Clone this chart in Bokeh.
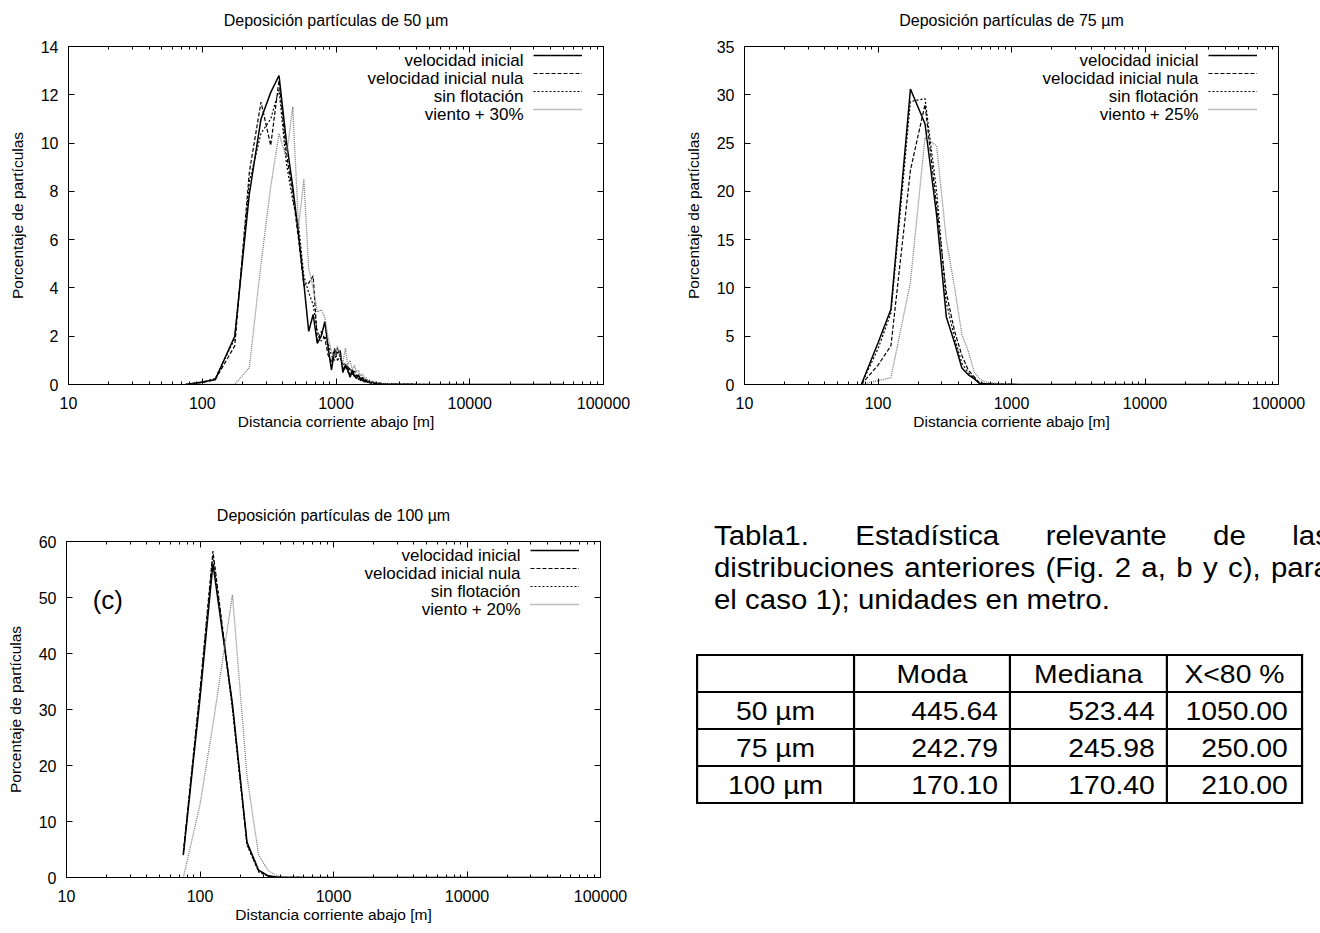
from bokeh.plotting import figure
from bokeh.models import (Range1d, FixedTicker, NumeralTickFormatter, LinearAxis, LogAxis,
                          Legend, LegendItem, Label, Div)
from bokeh.layouts import row, column
from bokeh.embed import file_html
from bokeh.resources import INLINE

FONT = "Liberation Sans"

# ---------------- data: 50 um ----------------
x50 = [75, 100, 125, 175, 225, 275, 325, 375, 425, 475,
       525, 575, 625, 675, 725, 775, 825, 875, 925, 975,
       1025, 1075, 1125, 1175, 1225, 1275, 1325, 1375, 1425, 1475,
       1525, 1575, 1625, 1675, 1725, 1775, 1825, 1875, 1925, 1975,
       2025, 2125, 2225, 2325, 2475, 2675, 2975, 3475, 4000, 5000,
       7000, 10000, 20000, 50000]
ini50 = [0, 0.1, 0.2, 2.0, 7.9, 11.0, 12.1, 12.8, 10.1, 8.2,
         6.2, 4.2, 2.2, 2.9, 1.7, 2.0, 2.6, 1.5, 0.6, 1.4,
         1.3, 1.4, 0.5, 0.8, 0.6, 0.3, 0.6, 0.35, 0.25, 0.4,
         0.15, 0.3, 0.1, 0.2, 0.08, 0.15, 0.05, 0.1, 0.04, 0.06,
         0.03, 0.05, 0.02, 0.03, 0.01, 0.02, 0.01, 0.01, 0, 0,
         0, 0, 0, 0]
nula50 = [0, 0.08, 0.2, 1.6, 8.8, 11.7, 9.9, 12.6, 9.6, 7.9,
          6.0, 4.1, 4.2, 4.5, 1.8, 2.2, 1.9, 1.2, 0.9, 1.5,
          1.0, 1.2, 0.7, 0.6, 0.8, 0.4, 0.5, 0.3, 0.4, 0.2,
          0.3, 0.15, 0.2, 0.1, 0.15, 0.06, 0.1, 0.05, 0.08, 0.03,
          0.05, 0.03, 0.04, 0.02, 0.02, 0.01, 0.01, 0.01, 0, 0,
          0, 0, 0, 0]
sinf50 = [0, 0.1, 0.25, 1.9, 8.4, 10.4, 11.0, 12.2, 9.2, 7.6,
          6.6, 4.5, 3.8, 3.3, 2.2, 1.8, 2.0, 1.7, 1.2, 1.0,
          1.5, 1.1, 0.8, 0.9, 0.5, 0.7, 0.4, 0.6, 0.3, 0.4,
          0.25, 0.3, 0.15, 0.25, 0.1, 0.12, 0.08, 0.1, 0.05, 0.08,
          0.04, 0.06, 0.03, 0.04, 0.02, 0.02, 0.01, 0.015, 0.01, 0,
          0, 0, 0, 0]
vien50 = [0, 0, 0, 0, 0.7, 5.0, 8.2, 10.4, 9.4, 11.5,
          6.5, 8.5, 4.8, 4.0, 3.0, 3.1, 2.8, 1.9, 1.4, 1.1,
          1.6, 1.2, 0.9, 1.5, 0.8, 1.0, 0.6, 0.8, 0.5, 0.6,
          0.35, 0.45, 0.25, 0.3, 0.15, 0.2, 0.1, 0.15, 0.08, 0.1,
          0.06, 0.08, 0.04, 0.05, 0.03, 0.03, 0.02, 0.015, 0.01, 0.005,
          0, 0, 0, 0]

# ---------------- data: 75 um ----------------
x75 = [75, 100, 125, 175, 225, 275, 325, 375, 425, 475,
       525, 575, 625, 675, 725, 775, 825, 875, 925, 975,
       1025, 1125, 1225, 1375, 1525, 1775, 2025, 3000, 5000, 10000,
       20000, 50000]
ini75 = [0, 4.3, 7.8, 30.6, 27.0, 17.5, 7.0, 4.3, 1.7, 1.0,
         0.6, 0.1, 0.08, 0.05, 0.04, 0.03, 0.02, 0.03, 0.01, 0.02,
         0.01, 0, 0, 0, 0, 0, 0, 0, 0, 0,
         0, 0]
nula75 = [0, 2.0, 4.0, 22.2, 29.0, 18.5, 9.5, 5.5, 3.0, 1.5,
          0.8, 0.2, 0.1, 0.06, 0.05, 0.03, 0.03, 0.02, 0.02, 0.01,
          0.01, 0, 0, 0, 0, 0, 0, 0, 0, 0,
          0, 0]
sinf75 = [0, 3.7, 7.4, 29.3, 29.6, 20.0, 8.5, 4.8, 2.2, 1.2,
          0.7, 0.15, 0.1, 0.06, 0.04, 0.03, 0.02, 0.02, 0.01, 0.01,
          0.01, 0, 0, 0, 0, 0, 0, 0, 0, 0,
          0, 0]
vien75 = [0, 0.4, 0.7, 10.6, 25.6, 24.7, 15.0, 10.0, 5.2, 3.4,
          1.3, 0.6, 0.3, 0.2, 0.15, 0.1, 0.08, 0.05, 0.05, 0.03,
          0.02, 0.02, 0.01, 0, 0, 0, 0, 0, 0, 0,
          0, 0]

# ---------------- data: 100 um ----------------
x100 = [75, 100, 125, 175, 225, 275, 325, 375, 425, 475,
        525, 625, 775, 1025, 1525, 2525, 5000, 10000, 20000, 50000]
ini100 = [4.0, 32.0, 56.0, 31.0, 6.3, 1.3, 0.3, 0.08, 0.04, 0.02,
          0.01, 0.01, 0, 0, 0, 0, 0, 0, 0, 0]
nula100 = [4.5, 33.5, 58.3, 30.5, 6.0, 1.1, 0.25, 0.06, 0.03, 0.02,
           0.01, 0, 0, 0, 0, 0, 0, 0, 0, 0]
sinf100 = [4.2, 33.0, 57.5, 30.0, 5.8, 1.0, 0.2, 0.05, 0.03, 0.01,
           0.01, 0, 0, 0, 0, 0, 0, 0, 0, 0]
vien100 = [0, 13.0, 27.3, 50.5, 18.0, 4.0, 1.2, 0.35, 0.1, 0.05,
           0.03, 0.02, 0.01, 0, 0, 0, 0, 0, 0, 0]

base_labels = ["velocidad inicial", "velocidad inicial nula", "sin flotación"]
x_major = [10, 100, 1000, 10000, 100000]
x_minor = [m * d for d in [10, 100, 1000, 10000] for m in range(2, 10)]

# table
tab_head = ["", "Moda", "Mediana", "X<80 %"]
tab_rows = ["50 µm", "75 µm", "100 µm"]
tab_moda = ["445.64", "242.79", "170.10"]
tab_mediana = ["523.44", "245.98", "170.40"]
tab_x80 = ["1050.00", "250.00", "210.00"]
caption = ("Tabla1. Estadística relevante de las distribuciones anteriores "
           "(Fig. 2 a, b y c), para el caso 1); unidades en metro.")

STYLES = [dict(line_color="black", line_width=1.5),
          dict(line_color="black", line_width=1.2, line_dash="4 2"),
          dict(line_color="black", line_width=1.2, line_dash="2 2"),
          dict(line_color="#7a7a7a", line_width=1.3, line_dash="1 1")]

ROW_H = 18      # legend row pitch (px)
LEG_PAD = 5     # legend padding -> first row centre 14 px below frame top


def style_axis(ax):
    ax.major_tick_in = 6
    ax.major_tick_out = 0
    ax.minor_tick_in = 3
    ax.minor_tick_out = 0
    ax.axis_line_color = "black"
    ax.major_tick_line_color = "black"
    ax.minor_tick_line_color = "black"
    ax.major_label_text_font = FONT
    ax.major_label_text_font_size = "16px"
    ax.major_label_text_color = "black"
    ax.axis_label_text_font = FONT
    ax.axis_label_text_font_size = "15.5px"
    ax.axis_label_text_font_style = "normal"
    ax.axis_label_text_color = "black"


def make_fig(title, xs, series, labels, ymax, ystep, width, height, bl, br, bt, bb):
    p = figure(width=width, height=height, x_axis_type="log",
               x_range=Range1d(10, 100000), y_range=Range1d(0, ymax),
               output_backend="svg", toolbar_location=None,
               min_border_left=bl, min_border_right=br,
               min_border_top=bt, min_border_bottom=bb)
    p.background_fill_color = "white"
    p.border_fill_color = "white"
    p.outline_line_color = "black"
    p.outline_line_width = 1
    p.xgrid.visible = False
    p.ygrid.visible = False

    xt = FixedTicker(ticks=x_major, minor_ticks=x_minor)
    yt = FixedTicker(ticks=list(range(0, ymax + 1, ystep)), minor_ticks=[])
    xa = p.xaxis[0]
    xa.ticker = xt
    xa.formatter = NumeralTickFormatter(format="0")
    xa.axis_label = "Distancia corriente abajo [m]"
    style_axis(xa)
    xa.major_label_standoff = 12
    xa.axis_label_standoff = 1
    ya = p.yaxis[0]
    ya.ticker = yt
    ya.axis_label = "Porcentaje de partículas"
    style_axis(ya)
    ya.major_label_standoff = 10
    ya.axis_label_standoff = 12

    # mirrored top axis; its label carries the chart title
    top = LogAxis(ticker=xt, axis_label=title)
    style_axis(top)
    top.major_label_text_font_size = "1px"
    top.major_label_text_color = None
    top.major_label_standoff = 0
    top.axis_label_text_font_size = "16px"
    top.axis_label_standoff = 18
    p.add_layout(top, "above")
    right = LinearAxis(ticker=yt)
    style_axis(right)
    right.major_label_text_font_size = "1px"
    right.major_label_text_color = None
    right.major_label_standoff = 0
    p.add_layout(right, "right")

    rs = []
    for ys, st in zip(series, STYLES):
        rs.append(p.line(xs, ys, **st))

    frame_w = width - bl - br
    frame_h = height - bt - bb

    # legend samples (glyphs only) in the top-right corner of the frame
    items = [LegendItem(label=" ", renderers=[r]) for r in rs]
    leg = Legend(items=items, location="top_right",
                 padding=LEG_PAD, margin=0, spacing=0,
                 glyph_width=49, glyph_height=ROW_H, label_height=ROW_H,
                 label_width=0, label_standoff=21,
                 label_text_font=FONT, label_text_font_size="1px",
                 border_line_color=None, background_fill_alpha=0)
    p.add_layout(leg)
    # legend texts, right-aligned just left of the samples
    x_txt = 10 ** (1 + 4 * (frame_w - 80) / frame_w)
    for i, lab in enumerate(labels):
        y_txt = ymax * (1 - (LEG_PAD + ROW_H / 2 + ROW_H * i) / frame_h)
        p.add_layout(Label(x=x_txt, y=y_txt, text=lab, text_align="right",
                           text_baseline="middle", text_font=FONT,
                           text_font_size="17px", text_color="black"))
    return p


p1 = make_fig("Deposición partículas de 50 µm", x50, [ini50, nula50, sinf50, vien50],
              base_labels + ["viento + 30%"], 14, 2, 676, 495, 68, 73, 46, 111)
p2 = make_fig("Deposición partículas de 75 µm", x75, [ini75, nula75, sinf75, vien75],
              base_labels + ["viento + 25%"], 35, 5, 644, 495, 68, 42, 46, 111)
p3 = make_fig("Deposición partículas de 100 µm", x100, [ini100, nula100, sinf100, vien100],
              base_labels + ["viento + 20%"], 60, 10, 680, 436, 66, 80, 46, 54)
p3.add_layout(Label(x=15.7, y=49.5, text="(c)", text_font=FONT, text_font_size="26px",
                    text_baseline="middle", text_align="left", text_color="black"))

# ---------------- caption + table (HTML) ----------------
def esc(s):
    return s.replace("&", "&amp;").replace("<", "&lt;").replace(">", "&gt;")

SX = 1.09
col_w = [144, 143, 144, 124]
td = "border:2px solid #000;padding:0 10px;height:37px;vertical-align:middle;white-space:nowrap;"
rows_html = "<tr>" + "".join(
    f'<td style="{td}text-align:center;width:{w}px">{esc(h)}</td>' for h, w in zip(tab_head, col_w)) + "</tr>"
for lab, a, b, c in zip(tab_rows, tab_moda, tab_mediana, tab_x80):
    rows_html += (f'<tr><td style="{td}text-align:center">{esc(lab)}</td>'
                  f'<td style="{td}text-align:right">{a}</td>'
                  f'<td style="{td}text-align:right">{b}</td>'
                  f'<td style="{td}text-align:right;padding-right:12px">{c}</td></tr>')

html = (
    '<div style="position:relative;width:640px;height:436px;overflow:hidden;'
    "font-family:'Liberation Sans',Arial,sans-serif;color:#000;\">"
    f'<div style="position:absolute;left:29px;top:20px;width:565px;transform:scaleX({SX});'
    'transform-origin:0 0;font-size:27px;line-height:32px;text-align:justify;">'
    f'{esc(caption)}</div>'
    f'<table style="position:absolute;left:11px;top:154px;transform:scaleX({SX});transform-origin:0 0;'
    'border-collapse:collapse;font-size:26px;line-height:1;table-layout:fixed;">'
    f'{rows_html}</table></div>'
)
div = Div(text=html, width=640, height=436)

layout = column(row(p1, p2), row(p3, div))
open("out.html", "w").write(file_html(layout, INLINE))
